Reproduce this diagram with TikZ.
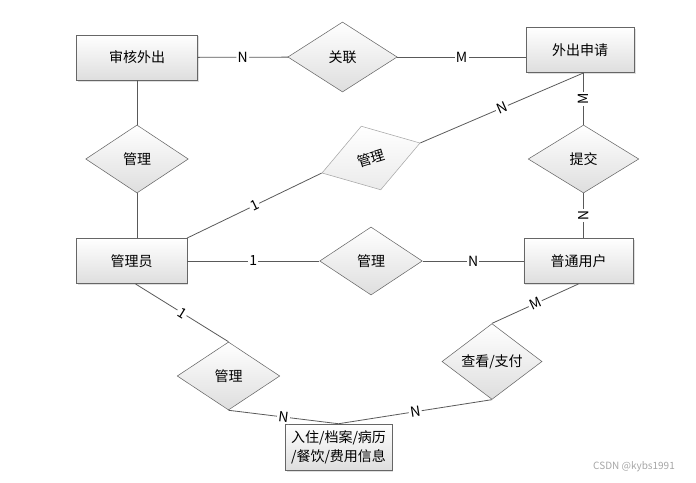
\documentclass[tikz,border=0pt]{standalone}
\usepackage{fontspec}
\setmainfont{Noto Sans CJK SC}
\usetikzlibrary{shapes.geometric,shadows}

\begin{document}
\begin{tikzpicture}[x=0.75pt,y=-0.75pt,
  font=\fontsize{10.5}{12}\selectfont,
  entity/.style={draw=black!60, top color=white, bottom color=black!13,
    minimum height=34pt, inner sep=2pt,
    drop shadow={shadow xshift=1.2pt, shadow yshift=-1.2pt, opacity=0.25}},
  relation/.style={diamond, draw=black!60, top color=white, bottom color=black!13,
    minimum width=77pt, minimum height=51pt, inner sep=0pt},
  card/.style={fill=white, inner sep=1pt, sloped},
  link/.style={draw=black!65, line width=0.6pt}]
  \useasboundingbox (0,0) rectangle (696,482);

  % Entities
  \node[entity, minimum width=90.5pt] (audit) at (137,57.5) {审核外出};
  \node[entity, minimum width=81pt] (apply) at (580,50) {外出申请};
  \node[entity, minimum width=83pt] (admin) at (131.5,261) {管理员};
  \node[entity, minimum width=82pt] (user) at (578.5,261) {普通用户};
  \node[entity, minimum width=80pt, minimum height=34.5pt, align=center,
    font=\fontsize{10.5}{14}\selectfont] (info) at (338.5,447)
    {入住/档案/病历\\/餐饮/费用信息};

  % Relations
  \node[relation, minimum width=82pt, minimum height=52.5pt] (link1) at (342.5,57) {关联};
  \node[relation] (manage1) at (137,159) {管理};
  \node[relation, rotate=17, draw=black!35, bottom color=black!8,
    minimum height=50pt] (manage2) at (371,158) {管理};
  \node[relation, minimum width=83pt] (submit) at (583.5,159) {提交};
  \node[relation] (manage3) at (371,261) {管理};
  \node[relation] (manage4) at (228.5,376) {管理};
  \node[relation, minimum width=75pt, minimum height=52pt] (pay) at (492,361.5) {查看/支付};

  % Connectors
  \draw[link] (audit) -- node[card] {N} (link1);
  \draw[link] (link1.east) -- node[card] {M} (link1 -| apply.west);
  \draw[link] (audit) -- (manage1);
  \draw[link] (manage1) -- (manage1 |- admin.north);
  \draw[link] (admin.north east) -- node[card] {1} (manage2.west);
  \draw[link] (manage2.east) -- node[card] {N} (submit |- apply.south);
  \draw[link] (submit.north) -- node[card] {M} (submit |- apply.south);
  \draw[link] (submit.south) -- node[card] {N} (submit |- user.north);
  \draw[link] (admin) -- node[card] {1} (manage3);
  \draw[link] (manage3) -- node[card] {N} (user);
  \draw[link] ([xshift=3pt]admin.south) -- node[card] {1} (manage4.north);
  \draw[link] (manage4.south) -- node[card] {N} (info.north);
  \draw[link] (user.south) -- node[card] {M} (pay.north);
  \draw[link] (pay.south) -- node[card] {N} (info.north);

  % Watermark
  \node[text=black!35, font=\fontsize{7.5}{9}\selectfont] (mark) at (634,467) {CSDN @kybs1991};
\end{tikzpicture}
\end{document}
